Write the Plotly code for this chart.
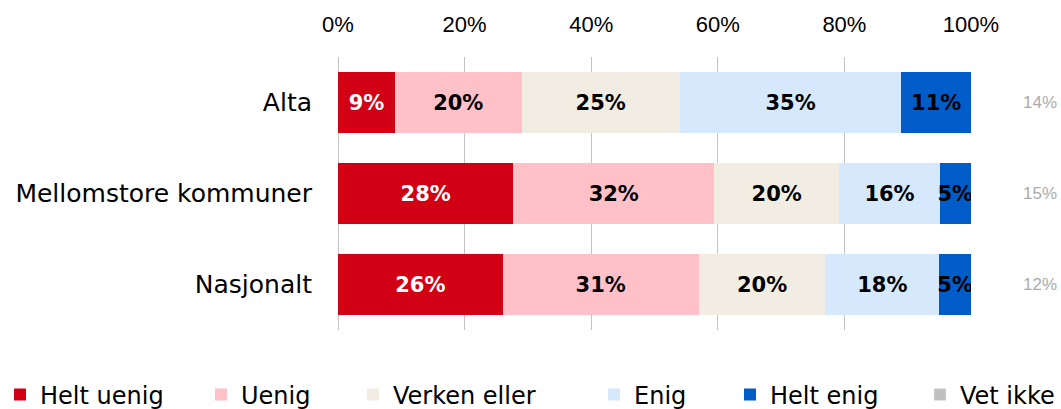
import plotly.graph_objects as go

categories = ["Alta", "Mellomstore kommuner", "Nasjonalt"]
series_names = ["Helt uenig", "Uenig", "Verken eller", "Enig", "Helt enig"]
helt_uenig = [9, 28, 26]
uenig = [20, 32, 31]
verken_eller = [25, 20, 20]
enig = [35, 16, 18]
helt_enig = [11, 5, 5]
vet_ikke = [14, 15, 12]
tick_vals = [0, 20, 40, 60, 80, 100]
tick_text = ["0%", "20%", "40%", "60%", "80%", "100%"]

series_values = [helt_uenig, uenig, verken_eller, enig, helt_enig]
colors = ["#D20015", "#FFC0C8", "#F2EDE2", "#D5E8FC", "#005CC8"]
text_colors = ["white", "black", "black", "black", "black"]

# legend text start positions (px, container) for each entry
legend_text_x = [33, 237, 389, 630, 766, 956]
W, H = 1061, 409
legend_names = ["legend", "legend2", "legend3", "legend4", "legend5", "legend6"]

fig = go.Figure()
for i, (name, vals, col, tcol) in enumerate(zip(series_names, series_values, colors, text_colors)):
    fig.add_trace(go.Bar(
        y=categories, x=vals, name=name, orientation="h",
        marker=dict(color=col, line=dict(width=0)),
        text=[f"{v}%" for v in vals], textposition="inside",
        insidetextanchor="middle", textangle=0, constraintext="none",
        textfont=dict(family="DejaVu Sans, sans-serif", size=21, color=tcol, weight="bold"),
        hoverinfo="skip", legend=legend_names[i], showlegend=True,
    ))

fig.add_trace(go.Bar(
    y=[categories[0]], x=[None], name="Vet ikke", orientation="h",
    marker=dict(color="#C0C0C0"), hoverinfo="skip", legend=legend_names[5], showlegend=True,
))

for cat, v in zip(categories, vet_ikke):
    fig.add_annotation(x=1.109, xref="paper", y=cat, yref="y", text=f"{v}%",
                       showarrow=False, xanchor="center",
                       font=dict(family="Liberation Sans, Arial, sans-serif", size=17, color="#ABABAB"))

legend_font = dict(family="DejaVu Sans, sans-serif", size=24, color="black")
legend_layouts = {}
for ln, tx in zip(legend_names, legend_text_x):
    legend_layouts[ln] = dict(
        orientation="h", xref="container", yref="container",
        x=max(tx - 36, 0) / W, y=1 - 395 / H, xanchor="left", yanchor="middle",
        font=legend_font, itemwidth=30, bgcolor="rgba(0,0,0,0)", visible=True,
    )

fig.update_layout(
    barmode="stack", barnorm="percent",
    width=W, height=H, showlegend=True,
    margin=dict(l=338, r=90, t=57, b=79),
    paper_bgcolor="white", plot_bgcolor="white",
    bargap=0.34,
    xaxis=dict(range=[0, 100], side="top", tickvals=tick_vals, ticktext=tick_text,
               showgrid=True, gridcolor="#C3C3C3", gridwidth=1,
               zeroline=True, zerolinecolor="#C3C3C3", zerolinewidth=1,
               showline=False, ticks="", ticklabelstandoff=20,
               tickfont=dict(family="Liberation Sans Narrow, Arial Narrow, Liberation Sans, sans-serif", size=22, color="black")),
    yaxis=dict(autorange="reversed", showgrid=False, showline=False, ticks="",
               ticklabelstandoff=25,
               tickfont=dict(family="DejaVu Sans, sans-serif", size=25, color="black")),
    font=dict(family="DejaVu Sans, sans-serif"),
    **legend_layouts,
)

fig.write_html("out.html", config={"displayModeBar": False},
               post_script="document.body.style.margin='0';document.body.style.padding='0';")
